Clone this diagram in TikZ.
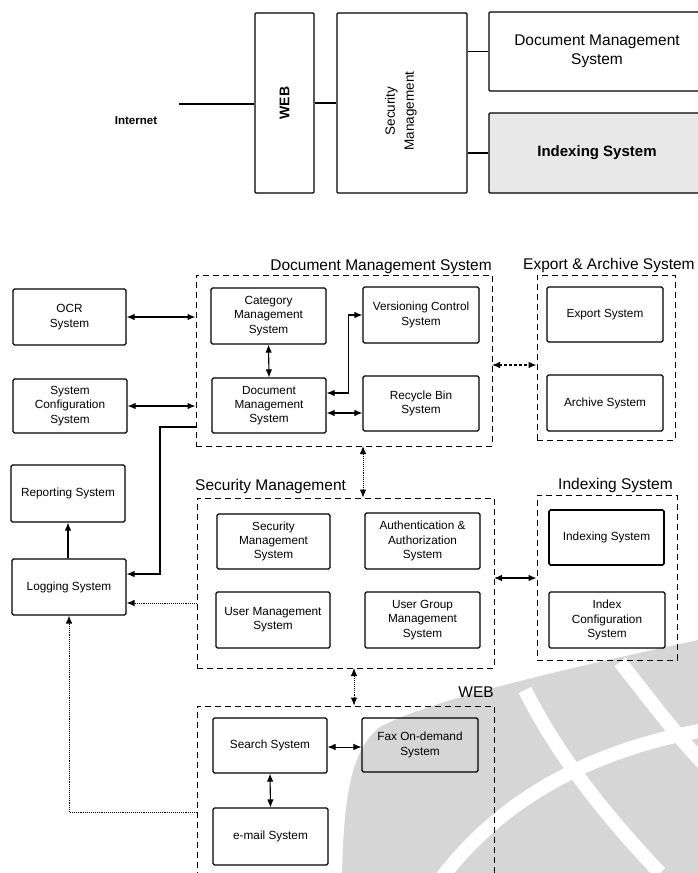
\documentclass[tikz,border=0pt]{standalone}
\usepackage{fontspec}
\setmainfont{Liberation Sans}
\usetikzlibrary{arrows.meta,calc}
\definecolor{wmgray}{RGB}{214,214,214}
\begin{document}
\begin{tikzpicture}[x=1pt,y=-1pt,
  box/.style={draw, line width=1.1pt, rounded corners=1.5pt, align=center,
    inner sep=1pt, font=\fontsize{11.8}{14.2}\selectfont},
  topbox/.style={draw, line width=1.1pt, rounded corners=1pt, inner sep=0pt},
  grp/.style={draw, dash pattern=on 6pt off 4pt, line width=0.9pt},
  gtitle/.style={font=\fontsize{15.5}{18}\selectfont, inner sep=0pt},
  both/.style={line width=1.1pt, {Latex[length=8pt,width=6.5pt]}-{Latex[length=8pt,width=6.5pt]}},
  arr/.style={line width=1.1pt, -{Latex[length=8pt,width=6.5pt]}},
  dots/.style={densely dotted, line width=0.9pt}]
\useasboundingbox (0,0) rectangle (698,873);

% ---- background emblem ----
\fill[wmgray] (342,873) .. controls (344,800) and (350,750) .. (380,727)
  .. controls (430,700) and (560,670) .. (698,640) -- (698,873) -- cycle;
\draw[white, line width=14pt] (525,690) .. controls (560,760) and (610,820) .. (660,873);
\draw[white, line width=14pt] (620,662) .. controls (650,700) and (680,740) .. (705,765);
\draw[white, line width=14pt] (440,880) .. controls (500,800) and (590,750) .. (705,730);

% ---- overview ----
\node[topbox, minimum width=59pt, minimum height=180pt] (web) at (284.5,103) {};
\node[rotate=90, font=\bfseries\fontsize{14}{16}\selectfont] (webtxt) at (web.center) {WEB};
\node[topbox, minimum width=130pt, minimum height=180pt] (secm) at (402,103) {};
\node[rotate=90, align=center, font=\fontsize{13.5}{19}\selectfont] (secmtxt) at (401,111) {Security\\Management};
\node[topbox, minimum width=216pt, minimum height=79pt, align=center,
  font=\fontsize{15.5}{19}\selectfont] (dmstop) at (597,51.5) {Document Management\\System};
\node[topbox, fill=black!9, minimum width=216pt, minimum height=80pt,
  font=\bfseries\fontsize{15}{18}\selectfont] (idxtop) at (597,153) {Indexing System};
\node[font=\bfseries\fontsize{11.5}{14}\selectfont] (inet) at (136,121) {Internet};
\coordinate (inetend) at (179,104);
\draw[line width=1.1pt] (inetend) -- (inetend -| web.west);
\draw[line width=1.1pt] (web.east) -- (secm.west);
\draw[line width=1.1pt] (secm.east |- dmstop) -- (dmstop.west);
\draw[line width=1.1pt] (secm.east |- idxtop) -- (idxtop.west);

% ---- group frames ----
\node[grp, minimum width=296pt, minimum height=171pt] (dmsg) at (344,360.5) {};
\node[gtitle, anchor=base east] (dmsgt) at (492,270) {Document Management System};
\node[grp, minimum width=138pt, minimum height=165pt] (eag) at (606,357.5) {};
\node[gtitle, anchor=base west] (eagt) at (523,269) {Export \& Archive System};
\node[grp, minimum width=297pt, minimum height=170pt] (secg) at (345.5,583) {};
\node[gtitle, anchor=base west] (secgt) at (195,490) {Security Management};
\node[grp, minimum width=140pt, minimum height=165pt] (idxg) at (607,577.5) {};
\node[gtitle, anchor=base west] (idxgt) at (558,489) {Indexing System};
\node[grp, minimum width=297pt, minimum height=190pt] (webg) at (345.5,801) {};
\node[gtitle, anchor=base east] (webgt) at (494,697) {WEB};

% ---- left column ----
\node[box, minimum width=113pt, minimum height=56pt] (ocr) at (69.5,317) {OCR\\System};
\node[box, minimum width=114pt, minimum height=54pt] (syscfg) at (70,406) {System\\Configuration\\System};
\node[box, minimum width=114pt, minimum height=57pt] (report) at (68,493.5) {Reporting System};
\node[box, minimum width=114pt, minimum height=56pt] (logging) at (69,587) {Logging System};

% ---- document management ----
\node[box, minimum width=115pt, minimum height=56pt] (cat) at (268.5,316) {Category\\Management\\System};
\node[box, minimum width=114pt, minimum height=55pt] (doc) at (269,405.5) {Document\\Management\\System};
\node[box, minimum width=116pt, minimum height=56pt] (vers) at (421,315) {Versioning Control\\System};
\node[box, minimum width=116pt, minimum height=55pt] (recyc) at (421,403.5) {Recycle Bin\\System};

% ---- export & archive ----
\node[box, minimum width=116pt, minimum height=55pt] (export) at (605,314.5) {Export System};
\node[box, minimum width=116pt, minimum height=56pt] (archive) at (605,403) {Archive System};

% ---- security management ----
\node[box, minimum width=113pt, minimum height=55pt] (secsys) at (273.5,541.5) {Security\\Management\\System};
\node[box, minimum width=115pt, minimum height=56pt] (auth) at (422.5,541) {Authentication \&\\Authorization\\System};
\node[box, minimum width=114pt, minimum height=56pt] (usermg) at (273,620) {User Management\\System};
\node[box, minimum width=115pt, minimum height=56pt] (usergrp) at (422.5,620) {User Group\\Management\\System};

% ---- indexing ----
\node[box, line width=1.6pt, minimum width=115pt, minimum height=55pt] (idxsys) at (606.5,537.5) {Indexing System};
\node[box, minimum width=116pt, minimum height=56pt] (idxcfg) at (607,620) {Index\\Configuration\\System};

% ---- web ----
\node[box, minimum width=114pt, minimum height=55pt] (search) at (270,745.5) {Search System};
\node[box, minimum width=116pt, minimum height=54pt] (fax) at (420,745) {Fax On-demand\\System};
\node[box, minimum width=115pt, minimum height=57pt] (email) at (270.5,836.5) {e-mail System};

% ---- connectors ----
\draw[both] (ocr.east) -- (ocr.east -| dmsg.west);
\draw[both] (syscfg.east) -- (syscfg.east -| dmsg.west);
\draw[both] (cat.south) -- (doc.north);
\draw[both] ([yshift=12.5pt]doc.east) -- ++(22,0) |- (vers.west);
\draw[both] ([yshift=-7.5pt]doc.east) -- ([yshift=-7.5pt]doc.east -| recyc.west);
\coordinate (dmsea) at (492,365);
\draw[both, dash pattern=on 3pt off 2pt] (dmsea) -- (dmsea -| eag.west);
\coordinate (dmssec) at (363,446);
\draw[both, dots] (dmssec) -- (dmssec |- secg.north);
\coordinate (dmslog) at (196,427);
\draw[arr] (dmslog) -- ++(-36,0) |- ([yshift=13pt]logging.east);
\coordinate (seclog) at (197,603);
\draw[arr, dots] (seclog) -- (seclog -| logging.east);
\draw[arr] (logging.north -| report.south) -- (report.south);
\coordinate (weblog) at (197,812);
\draw[arr, dots] (weblog) -| (logging.south);
\coordinate (secidx) at (494,578);
\draw[both] (secidx) -- (secidx -| idxg.west);
\coordinate (secweb) at (354,668);
\draw[both, dots] (secweb) -- (secweb |- webg.north);
\coordinate (sfy) at (0,747);
\draw[both, line width=0.8pt] (search.east |- sfy) -- (fax.west |- sfy);
\draw[both] (search.south) -- (email.north);
\end{tikzpicture}
\end{document}
